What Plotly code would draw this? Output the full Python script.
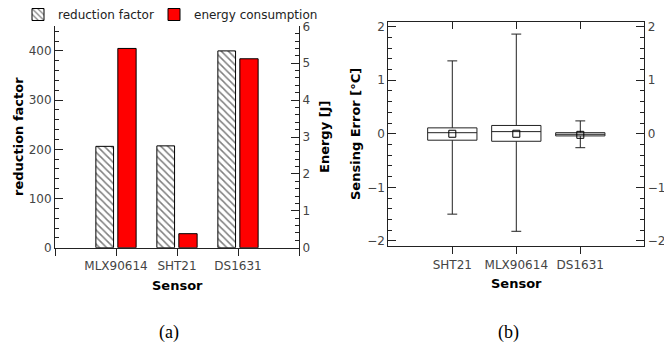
import plotly.graph_objects as go

# ---- data (a) ----
sensors_a = ["MLX90614", "SHT21", "DS1631"]
reduction_factor = [206, 207, 400]
energy_j = [5.40, 0.38, 5.12]

# ---- data (b) ----
sensors_b = ["SHT21", "MLX90614", "DS1631"]
err_q1 = [-0.12, -0.14, -0.04]
err_median = [0.02, 0.04, -0.01]
err_q3 = [0.11, 0.155, 0.02]
err_low = [-1.50, -1.82, -0.26]
err_high = [1.36, 1.86, 0.24]
err_mean = [0.0, 0.0, -0.02]

W, H = 664, 347
def px(x): return x / W
def py(y): return 1 - y / H

FONT = "DejaVu Sans"
TICKC = "#444444"
LINEC = "#222222"

xa = list(range(len(sensors_a)))
xb = list(range(len(sensors_b)))

fig = go.Figure()

fig.add_trace(go.Bar(
    x=xa, y=reduction_factor, name="reduction factor",
    offset=-0.33, width=0.29,
    marker=dict(color="white", line=dict(color="black", width=1),
                pattern=dict(shape="\\", fgcolor="black", bgcolor="white",
                             size=5, solidity=0.3)),
    xaxis="x", yaxis="y", legend="legend"))
fig.add_trace(go.Bar(
    x=xa, y=energy_j, name="energy consumption",
    offset=0.03, width=0.30,
    marker=dict(color="#ff0000", line=dict(color="black", width=1)),
    xaxis="x", yaxis="y2", legend="legend2"))

fig.add_trace(go.Box(
    x=xb, q1=err_q1, median=err_median, q3=err_q3,
    lowerfence=err_low, upperfence=err_high,
    width=0.77, whiskerwidth=0.2,
    fillcolor="white", line=dict(color=LINEC, width=1),
    showlegend=False, boxpoints=False,
    xaxis="x3", yaxis="y3"))
fig.add_trace(go.Scatter(
    x=xb, y=err_mean, mode="markers",
    marker=dict(symbol="square-open", size=7, color="black", line=dict(width=1)),
    showlegend=False, xaxis="x5", yaxis="y4"))

ax_font = dict(family=FONT, size=12, color=TICKC)
minor_y = dict(ticks="inside", ticklen=4, tickcolor=LINEC)

rangeB = [-2.1, 2.08]

leg_common = dict(orientation="h", y=py(0), xanchor="left", yanchor="top",
                  font=dict(family=FONT, size=12, color="#222"),
                  bgcolor="rgba(0,0,0,0)")

fig.update_layout(
    width=W, height=H,
    margin=dict(l=0, r=0, t=0, b=0, autoexpand=False),
    paper_bgcolor="white", plot_bgcolor="white",
    barmode="overlay",
    font=dict(family=FONT, size=12, color="black"),
    showlegend=True,
    legend=dict(x=px(18), **leg_common),
    legend2=dict(x=px(154), **leg_common),
    xaxis=dict(domain=[px(55), px(299)], anchor="y", range=[-1, 3],
               tickvals=[-1, 0, 1, 2, 3], ticktext=[""] + sensors_a + [""],
               ticks="outside", ticklen=7, tickcolor=LINEC,
               showline=True, linecolor=LINEC, linewidth=1,
               showgrid=False, zeroline=False, tickfont=ax_font),
    yaxis=dict(domain=[py(247.7), py(26.3)], anchor="x", range=[0, 450],
               tickvals=[0, 100, 200, 300, 400],
               ticks="inside", ticklen=8, tickcolor=LINEC,
               minor=dict(dtick=20, **minor_y),
               showline=True, linecolor=LINEC, linewidth=1,
               showgrid=False, zeroline=False, tickfont=ax_font),
    yaxis2=dict(overlaying="y", anchor="x", side="right", range=[0, 6],
                tickvals=[0, 1, 2, 3, 4, 5, 6],
                ticks="inside", ticklen=8, tickcolor=LINEC,
                minor=dict(dtick=0.2, **minor_y),
                showline=True, linecolor=LINEC, linewidth=1,
                showgrid=False, zeroline=False, tickfont=ax_font),
    xaxis3=dict(domain=[px(388.3), px(644.3)], anchor="y3", range=[-1, 3],
                tickvals=xb, ticktext=sensors_b,
                ticks="outside", ticklen=7, tickcolor=LINEC,
                showline=True, linecolor=LINEC, linewidth=1,
                showgrid=False, zeroline=False, tickfont=ax_font),
    xaxis5=dict(overlaying="x3", anchor="y3", side="top", range=[-1, 3],
                tickvals=xb, showticklabels=False,
                ticks="inside", ticklen=7, tickcolor=LINEC,
                showline=True, linecolor=LINEC, linewidth=1,
                showgrid=False, zeroline=False),
    yaxis3=dict(domain=[py(246.3), py(22.3)], anchor="x3", range=rangeB,
                tickvals=[-2, -1, 0, 1, 2],
                ticks="inside", ticklen=8, tickcolor=LINEC,
                minor=dict(dtick=0.2, **minor_y),
                showline=True, linecolor=LINEC, linewidth=1,
                showgrid=False, zeroline=False, tickfont=ax_font),
    yaxis4=dict(overlaying="y3", anchor="x5", side="right", range=rangeB,
                tickvals=[-2, -1, 0, 1, 2],
                ticks="inside", ticklen=8, tickcolor=LINEC,
                minor=dict(dtick=0.2, **minor_y),
                showline=True, linecolor=LINEC, linewidth=1,
                showgrid=False, zeroline=False, tickfont=ax_font),
)

title_font = dict(family=FONT, size=13, color="black")
annos = [
    dict(text="<b>reduction factor</b>", x=px(18), y=py(137), textangle=-90),
    dict(text="<b>Energy [J]</b>", x=px(324), y=py(137), textangle=-90),
    dict(text="<b>Sensor</b>", x=px(177), y=py(285)),
    dict(text="<b>Sensing Error [°C]</b>", x=px(355), y=py(134), textangle=-90),
    dict(text="<b>Sensor</b>", x=px(516.5), y=py(283.5)),
]
for a in annos:
    fig.add_annotation(xref="paper", yref="paper", showarrow=False,
                       xanchor="center", yanchor="middle", font=title_font, **a)

cap_font = dict(family="Liberation Serif", size=18, color="black")
fig.add_annotation(text="(a)", x=px(169), y=py(332), xref="paper", yref="paper",
                   showarrow=False, xanchor="center", yanchor="middle", font=cap_font)
fig.add_annotation(text="(b)", x=px(508), y=py(332), xref="paper", yref="paper",
                   showarrow=False, xanchor="center", yanchor="middle", font=cap_font)

fig.write_html("out.html", config={"displayModeBar": False},
               post_script="document.body.style.margin='0';document.body.style.padding='0';")
